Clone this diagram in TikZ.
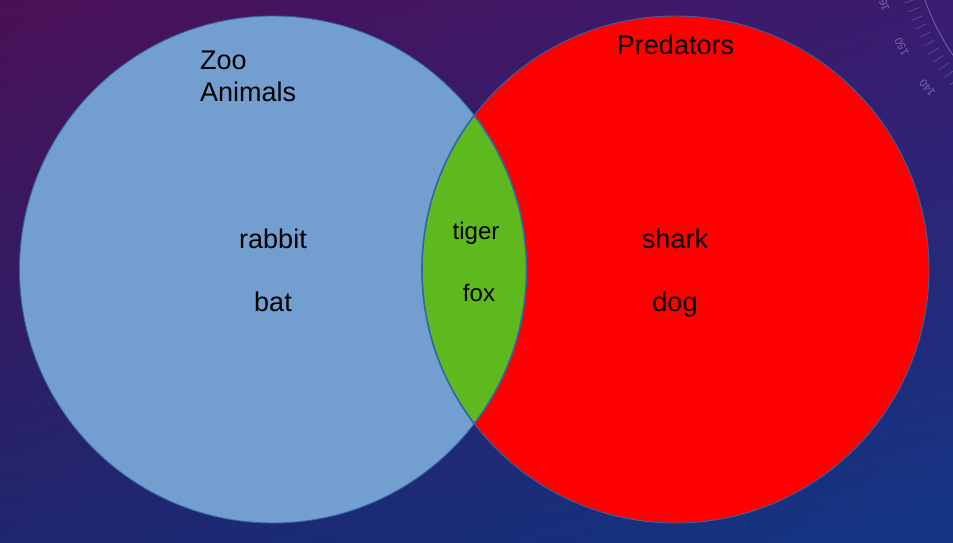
\documentclass[tikz,border=0pt]{standalone}
\usepackage{fontspec}
\setmainfont{Liberation Sans}
\usetikzlibrary{calc,shadings}
\definecolor{zooblue}{RGB}{114,159,207}
\definecolor{predred}{RGB}{255,0,0}
\definecolor{lensgreen}{RGB}{94,185,31}
\definecolor{edgeblue}{RGB}{52,101,164}
\definecolor{bgtl}{RGB}{74,16,86}
\definecolor{bgtr}{RGB}{58,28,112}
\definecolor{bgbl}{RGB}{30,38,110}
\definecolor{bgbr}{RGB}{18,54,132}
\definecolor{dial}{RGB}{170,160,210}
\tikzset{
  setcircle/.style={circle, draw=edgeblue, line width=0.9pt, minimum size=507pt, inner sep=0pt},
  bigtext/.style={font=\fontsize{27}{31}\selectfont, text=black, inner sep=0pt},
  lenstext/.style={font=\fontsize{24}{28}\selectfont, text=black, inner sep=0pt},
  dialnum/.style={font=\fontsize{11}{11}\selectfont, text=dial, opacity=0.55, inner sep=0pt}
}
\begin{document}
\begin{tikzpicture}[x=1pt,y=-1pt]
\useasboundingbox (0,0) rectangle (953,543);
\shade[upper left=bgtl, upper right=bgtr, lower left=bgbl, lower right=bgbr] (0,0) rectangle (953,543);
% faint dial in the background
\begin{scope}
\clip (0,0) rectangle (953,543);
\coordinate (dc) at (1160,-85);
\draw[dial, opacity=0.55, line width=0.8pt] ($(dc)+(165:250)$) arc[start angle=165, end angle=115, radius=250];
\foreach \a in {115,117,...,167}{
  \draw[dial, opacity=0.4, line width=0.6pt] ($(dc)+(\a:258)$) -- ($(dc)+(\a:270)$);
}
\node[dialnum, rotate=107] (d160) at ($(dc)+(162.5:290)$) {160};
\node[dialnum, rotate=117] (d150) at ($(dc)+(153:290)$) {150};
\node[dialnum, rotate=127] (d140) at ($(dc)+(143.4:290)$) {140};
\end{scope}
% circles
\node[setcircle, fill=zooblue] (zoo) at (273,269.5) {};
\node[setcircle, fill=predred] (pred) at (675.5,269.5) {};
% lens
\begin{scope}
\clip (273,269.5) circle[radius=253.5];
\fill[lensgreen] (675.5,269.5) circle[radius=253.5];
\draw[edgeblue, line width=1.6pt] (675.5,269.5) circle[radius=253.5];
\end{scope}
\begin{scope}
\clip (675.5,269.5) circle[radius=253.5];
\draw[edgeblue, line width=1.6pt] (273,269.5) circle[radius=253.5];
\end{scope}
% labels
\node[bigtext, anchor=base west] (zoot1) at (200,69.5) {Zoo};
\node[bigtext, anchor=base west] (zoot2) at (200,101.5) {Animals};
\node[bigtext, anchor=base] (predt) at (675.5,54.5) {Predators};
\node[bigtext, anchor=base] (rabbit) at (273,248.5) {rabbit};
\node[bigtext, anchor=base] (bat) at (273,311.5) {bat};
\node[bigtext, anchor=base] (shark) at (675,248.5) {shark};
\node[bigtext, anchor=base] (dog) at (675,311.5) {dog};
\node[lenstext, anchor=base] (tiger) at (476,239.5) {tiger};
\node[lenstext, anchor=base] (fox) at (479,301.5) {fox};
\end{tikzpicture}
\end{document}
